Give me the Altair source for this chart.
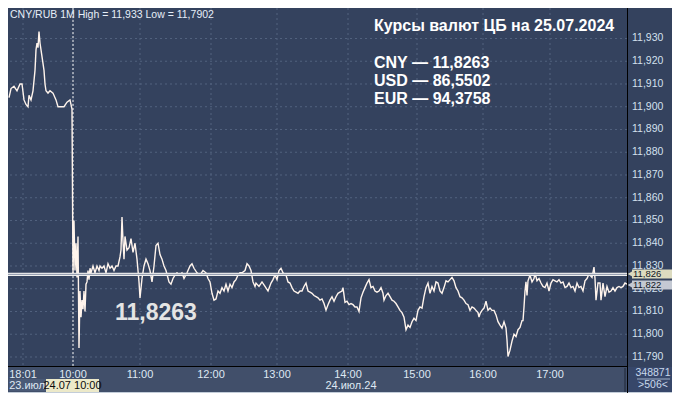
import altair as alt
import pandas as pd

# ---- data (bar position on the compressed time axis, price) ----
bar_pos = [9, 11, 14, 17, 20, 22, 24, 26, 28, 29, 31, 33, 35, 36, 37, 38, 39, 40, 42, 44, 45, 46, 48, 50, 53, 56, 58, 61, 64, 67, 70, 72,
           73, 74, 75, 76, 77, 78, 79, 80, 81, 82, 83, 84, 85, 86, 87, 88, 89, 90, 91, 93, 95, 97, 99, 100, 102, 104, 106, 108, 110,
           112, 114, 116, 118, 120, 121, 122, 123, 124, 125, 127, 129, 131, 133, 135, 137, 139, 140, 142, 144, 146, 148, 150, 152,
           154, 156, 158, 160, 162, 164, 166, 169, 171, 173, 175, 177, 179, 182, 184, 187, 190, 192, 194, 197, 200, 203, 206, 208,
           210, 212, 214, 216, 218, 220, 222, 224, 226, 228, 230, 232, 234, 236, 238, 240, 242, 245, 247, 249, 251, 253, 255, 256,
           259, 262, 265, 268, 271, 273, 275, 277, 279, 281, 283, 286, 288, 290, 292, 294, 296, 298, 300, 302, 304, 306, 308, 310,
           312, 314, 316, 318, 320, 322, 324, 326, 328, 330, 332, 334, 336, 338, 340, 342, 343, 345, 347, 349, 351, 353, 355, 357,
           359, 361, 363, 365, 367, 369, 371, 373, 375, 377, 379, 381, 383, 384, 386, 388, 390, 392, 394, 396, 398, 400, 402, 404,
           406, 408, 410, 412, 414, 416, 418, 420, 422, 424, 426, 428, 430, 432, 434, 436, 438, 440, 442, 444, 446, 448, 450, 452,
           454, 456, 458, 460, 462, 464, 466, 468, 470, 472, 474, 476, 478, 479, 480, 482, 484, 486, 488, 490, 492, 494, 496, 498,
           500, 502, 504, 506, 507, 508, 510, 512, 514, 516, 518, 520, 522, 523, 524, 525, 526, 527, 528, 530, 532, 534, 535, 537,
           539, 541, 543, 545, 547, 549, 551, 553, 555, 557, 559, 561, 563, 565, 567, 569, 571, 573, 575, 577, 579, 581, 583, 585,
           587, 589, 592, 594, 595, 596, 598, 600, 601, 603, 605, 607, 609, 611, 613, 615, 617, 619, 621, 623, 625, 627]
price = [11.904, 11.908, 11.909, 11.907, 11.910, 11.910, 11.903, 11.901, 11.900, 11.905, 11.903, 11.907, 11.916, 11.925, 11.928,
         11.926, 11.933, 11.928, 11.922, 11.916, 11.910, 11.907, 11.906, 11.907, 11.906, 11.903, 11.900, 11.900, 11.900, 11.902,
         11.903, 11.899,
         11.826, 11.850, 11.828, 11.840, 11.825, 11.843, 11.794, 11.819, 11.8075, 11.815, 11.811, 11.819, 11.810, 11.822, 11.823,
         11.828, 11.824, 11.829, 11.827, 11.830, 11.827, 11.830, 11.828, 11.830, 11.829, 11.830, 11.827, 11.831, 11.829, 11.830,
         11.828, 11.830, 11.830, 11.834, 11.837, 11.8515, 11.841, 11.833, 11.843, 11.837, 11.838, 11.842, 11.836, 11.840, 11.833,
         11.823, 11.816, 11.8245, 11.830, 11.833, 11.831, 11.828, 11.823, 11.830, 11.839, 11.840, 11.835, 11.833, 11.830, 11.828,
         11.823, 11.822, 11.8245, 11.826, 11.827, 11.826, 11.827, 11.8245, 11.827, 11.830, 11.831, 11.829, 11.827, 11.826, 11.828,
         11.827, 11.8245, 11.823, 11.818, 11.815, 11.8155, 11.819, 11.818, 11.8205, 11.819, 11.822, 11.819, 11.822, 11.8205,
         11.823, 11.824, 11.826, 11.827, 11.827, 11.828, 11.831, 11.830, 11.828, 11.823, 11.821, 11.8225, 11.821, 11.823, 11.821,
         11.819, 11.8225, 11.824, 11.826, 11.824, 11.828, 11.829, 11.827, 11.826, 11.823, 11.8225, 11.8205, 11.819, 11.8185,
         11.818, 11.819, 11.819, 11.821, 11.8225, 11.819, 11.8185, 11.818, 11.817, 11.8165, 11.816, 11.815, 11.8155, 11.8135,
         11.8106, 11.813, 11.815, 11.8165, 11.8145, 11.8165, 11.818, 11.8185, 11.819, 11.8205, 11.814, 11.8145, 11.813, 11.8135,
         11.813, 11.812, 11.812, 11.810, 11.816, 11.8185, 11.8205, 11.8225, 11.824, 11.8205, 11.821, 11.819, 11.8185, 11.819,
         11.8205, 11.818, 11.815, 11.817, 11.818, 11.8165, 11.815, 11.8145, 11.8135, 11.812, 11.8105, 11.8095, 11.8075, 11.802,
         11.804, 11.803, 11.8055, 11.807, 11.806, 11.8105, 11.812, 11.8115, 11.8165, 11.8205, 11.8225, 11.818, 11.821, 11.819,
         11.823, 11.8225, 11.819, 11.818, 11.8205, 11.8235, 11.823, 11.824, 11.825, 11.8235, 11.8205, 11.819, 11.8165, 11.816,
         11.815, 11.8135, 11.813, 11.8105, 11.812, 11.8115, 11.8105, 11.8095, 11.8075, 11.809, 11.8105, 11.8115, 11.8145,
         11.8105, 11.8115, 11.8105, 11.8105, 11.8085, 11.8055, 11.804, 11.8027, 11.8055, 11.8027, 11.7975, 11.7902, 11.793,
         11.797, 11.800, 11.799, 11.802, 11.803, 11.806, 11.806, 11.812, 11.819, 11.823, 11.817, 11.8235, 11.826, 11.823,
         11.8245, 11.827, 11.8235, 11.8245, 11.8225, 11.821, 11.8205, 11.8225, 11.819, 11.8225, 11.824, 11.8235, 11.823, 11.824,
         11.8225, 11.823, 11.8205, 11.821, 11.8225, 11.8205, 11.821, 11.819, 11.8225, 11.8205, 11.821, 11.819, 11.8235, 11.8245,
         11.8265, 11.825, 11.8295, 11.8245, 11.815, 11.8225, 11.8225, 11.815, 11.8225, 11.8165, 11.821, 11.8185, 11.819, 11.8205,
         11.819, 11.8205, 11.821, 11.8205, 11.821, 11.8225, 11.822]

x_tick_pos = [23, 73, 140, 211, 277, 348, 417, 483, 550]
x_tick_labels = ["18:01", "10:00", "11:00", "12:00", "13:00", "14:00", "15:00", "16:00", "17:00"]
y_tick_vals = [11.79, 11.80, 11.81, 11.82, 11.83, 11.84, 11.85, 11.86, 11.87, 11.88, 11.89, 11.90, 11.91, 11.92, 11.93]
y_tick_labels = ["11,790", "11,800", "11,810", "11,820", "11,830", "11,840", "11,850", "11,860", "11,870",
                 "11,880", "11,890", "11,900", "11,910", "11,920", "11,930"]
session_start = 73          # 24.07 10:00
cbr_rate = 11.8263
last_price = 11.822
title_lines = ["Курсы валют ЦБ на 25.07.2024", "CNY — 11,8263", "USD — 86,5502", "EUR — 94,3758"]
volume_text = "348871"
count_text = ">506<"

FONT = "Liberation Sans"
BG = "#34425e"
W, H = 619, 359

df = pd.DataFrame({"bar": bar_pos, "price": price})
ygrid = pd.DataFrame({"v": y_tick_vals, "lab": y_tick_labels})
xgrid = pd.DataFrame({"p": x_tick_pos, "lab": x_tick_labels})
one = pd.DataFrame({"k": [0]})

xs = alt.Scale(domain=[8, 627], nice=False, zero=False)
ys = alt.Scale(domain=[11.7856, 11.9434], nice=False, zero=False)

def fmt(v, d):
    return f"{v:.{d}f}".replace(".", ",")

header = f"CNY/RUB 1M  High = {fmt(max(price), 3)}  Low = {fmt(min(price), 4)}"

def box(x, x2, y, y2, color):
    return alt.Chart(one).mark_rect(color=color).encode(
        x=alt.value(x), x2=alt.value(x2), y=alt.value(y), y2=alt.value(y2))

def vline(x, y, y2, color, width=1):
    return alt.Chart(one).mark_rule(color=color, strokeWidth=width).encode(
        x=alt.value(x), y=alt.value(y), y2=alt.value(y2))

def label(txt, x, y, size, color, weight="normal", align="left"):
    return alt.Chart(one).mark_text(text=txt, font=FONT, fontSize=size, color=color, fontWeight=weight,
                                    align=align, baseline="middle").encode(x=alt.value(x), y=alt.value(y))

hgrid = alt.Chart(ygrid).mark_rule(color="#52627f", strokeDash=[2, 3], strokeWidth=1).encode(
    y=alt.Y("v:Q", scale=ys, axis=None))
vgrid = alt.Chart(xgrid).mark_rule(color="#52627f", strokeDash=[2, 3], strokeWidth=1).encode(
    x=alt.X("p:Q", scale=xs, axis=None))
sep = alt.Chart(pd.DataFrame({"p": [session_start]})).mark_rule(color="#f4f4f4", strokeDash=[2, 2], strokeWidth=1).encode(
    x=alt.X("p:Q", scale=xs, axis=None))

line = alt.Chart(df).mark_line(color="#fff4ec", strokeWidth=1.4).encode(
    x=alt.X("bar:Q", scale=xs, axis=None),
    y=alt.Y("price:Q", scale=ys, axis=None))

cbr_outer = alt.Chart(one).mark_rule(color="#eeeeee", strokeWidth=3.2).encode(
    y=alt.Y(datum=cbr_rate, type="quantitative", scale=ys, axis=None))
cbr_inner = alt.Chart(one).mark_rule(color="#8e97aa", strokeWidth=1).encode(
    y=alt.Y(datum=cbr_rate, type="quantitative"))

# panels outside the plot area
bottom_band = box(0, 664, 359, 385, "#414f6a")
corner = box(620, 664, 359, 385, "#37476a")
strip = box(0, 664, 384, 385, "#c3cdd9")
date_patch = box(1, 38, 371, 383, "#4a5a77")
border_r = vline(619.5, 0, 385, "#000000")
border_b = alt.Chart(one).mark_rule(color="#000000", strokeWidth=1).encode(
    x=alt.value(0), x2=alt.value(620), y=alt.value(358.5))
sep_b = vline(617, 360, 384, "#1e2637")
vol_line = alt.Chart(one).mark_rule(color="#9fb0c8", strokeWidth=1).encode(
    x=alt.value(629), x2=alt.value(662), y=alt.value(371))

# axis labels as text
ylabels = alt.Chart(ygrid).mark_text(font=FONT, fontSize=10.5, color="#d3e0ee", align="left", baseline="middle").encode(
    x=alt.value(624), y=alt.Y("v:Q"), text="lab:N")
xlabels = alt.Chart(xgrid).mark_text(font=FONT, fontSize=11, color="#dfe8f3", align="center", baseline="middle").encode(
    x=alt.X("p:Q"), y=alt.value(366.5), text="lab:N")

# price tags
def tag(v, color, shift):
    r = alt.Chart(one).mark_rect(color=color, yOffset=shift - 4.5, y2Offset=shift + 4.5).encode(
        x=alt.value(624), x2=alt.value(664),
        y=alt.Y(datum=v, type="quantitative"), y2=alt.Y2(datum=v))
    a = alt.Chart(one).mark_point(shape="triangle-left", filled=True, color=color, size=28, opacity=1,
                                  yOffset=shift).encode(
        x=alt.value(622), y=alt.Y(datum=v, type="quantitative"))
    t = alt.Chart(one).mark_text(text=fmt(v, 3), font=FONT, fontSize=9.5, color="#101624", align="left",
                                 baseline="middle", dy=shift).encode(
        x=alt.value(625), y=alt.Y(datum=v, type="quantitative"))
    return [r, a, t]

tags = tag(cbr_rate, "#dcdbc0", -0.5) + tag(last_price, "#c4c9d3", 0.8)

date_box = box(38, 91, 371, 384, "#ece9c9")
texts = [
    label(header, 2, 7, 10.5, "#e6eef8"),
    label(title_lines[0], 366, 18, 16, "#ffffff", "bold"),
    label(title_lines[1], 366, 55, 16, "#ffffff", "bold"),
    label(title_lines[2], 366, 73, 16, "#ffffff", "bold"),
    label(title_lines[3], 366, 91, 16, "#ffffff", "bold"),
    label(fmt(cbr_rate, 4), 107, 305, 23, "#e4e4e4", "bold"),
    label("23.июл", 37, 377.5, 11, "#dfe8f3", align="right"),
]
after_box = [
    label("24.07 10:00", 64.5, 377.5, 11, "#0c0c0c", align="center"),
    label("24.июл.24", 343, 377.5, 11, "#dfe8f3", align="center"),
    label(volume_text, 645, 365, 10.5, "#c8d8ec", align="center"),
    label(count_text, 645, 377, 10.5, "#c8d8ec", align="center"),
]

chart = alt.layer(
    hgrid, vgrid, sep, line, cbr_outer, cbr_inner,
    bottom_band, date_patch, corner, strip, border_r, border_b, sep_b, vol_line,
    ylabels, xlabels, *tags, *texts, date_box, *after_box
).properties(
    width=W, height=H, autosize="none",
    padding={"left": 0, "top": 0, "right": 45, "bottom": 26},
).configure(background=BG).configure_view(fill=BG, stroke="transparent")

chart.save("out.html", embed_options={"renderer": "svg", "actions": False})
